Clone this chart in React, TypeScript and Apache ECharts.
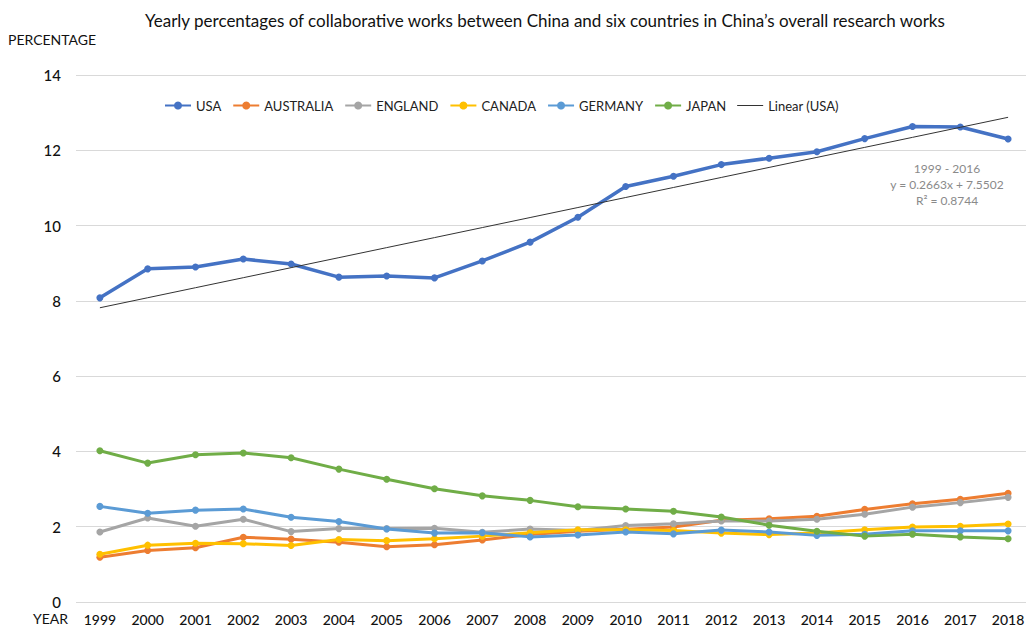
import React, { useEffect, useRef } from "react";
import * as echarts from "echarts";

const years = ["1999","2000","2001","2002","2003","2004","2005","2006","2007","2008","2009","2010","2011","2012","2013","2014","2015","2016","2017","2018"];
const usa = [8.08,8.85,8.90,9.11,8.98,8.63,8.66,8.61,9.06,9.56,10.22,11.04,11.31,11.62,11.79,11.96,12.31,12.63,12.62,12.30];
const australia = [1.19,1.37,1.44,1.72,1.67,1.59,1.47,1.52,1.65,1.79,1.88,1.93,1.99,2.17,2.21,2.28,2.46,2.61,2.73,2.89];
const england = [1.86,2.23,2.01,2.20,1.87,1.95,1.95,1.96,1.85,1.94,1.90,2.03,2.08,2.15,2.15,2.20,2.33,2.52,2.64,2.78];
const canada = [1.27,1.51,1.56,1.55,1.50,1.66,1.63,1.68,1.75,1.84,1.92,1.92,1.90,1.83,1.79,1.83,1.92,1.99,2.01,2.07];
const germany = [2.54,2.36,2.44,2.47,2.25,2.14,1.94,1.83,1.84,1.73,1.78,1.86,1.81,1.91,1.86,1.77,1.80,1.89,1.89,1.89];
const japan = [4.02,3.69,3.91,3.96,3.83,3.53,3.26,3.01,2.82,2.70,2.53,2.47,2.41,2.26,2.04,1.88,1.75,1.80,1.73,1.68];
const trendSlope = 0.2663;
const trendIntercept = 7.5502;
const trendLabel = ["1999 - 2016", "y = 0.2663x + 7.5502", "R² = 0.8744"];

const FONT = "Lato, 'Open Sans', sans-serif";

export default function App() {
  const ref = useRef<HTMLDivElement>(null);
  useEffect(() => {
    if (!ref.current) return;
    const chart = echarts.init(ref.current, null, { renderer: "svg" });
    const trend = years.map((_, i) => +(trendSlope * (i + 1) + trendIntercept).toFixed(4));
    const mk = (name: string, data: number[], color: string, width: number) => ({
      name,
      type: "line",
      data,
      symbol: "circle",
      symbolSize: 7,
      lineStyle: { color, width },
      itemStyle: { color },
      z: name === "USA" ? 3 : 2,
    });
    chart.setOption({
      animation: false,
      textStyle: { fontFamily: FONT },
      title: {
        text: "Yearly percentages of collaborative works between China and six countries in China\u2019s overall research works",
        left: 140,
        top: 7,
        textStyle: { fontFamily: FONT, fontSize: 17, fontWeight: "normal", color: "#111" },
      },
      legend: {
        top: 94,
        left: 159,
        itemWidth: 26,
        itemHeight: 10,
        itemGap: 11,
        textStyle: { fontFamily: FONT, fontSize: 13, color: "#222" },
        data: [
          "USA", "AUSTRALIA", "ENGLAND", "CANADA", "GERMANY", "JAPAN",
          { name: "Linear (USA)", icon: "path://M0 0 H26 V1 H0 Z" },
        ],
      },
      grid: { left: 76, right: 0, top: 75, bottom: 28 },
      xAxis: {
        type: "category",
        data: years,
        boundaryGap: true,
        axisLine: { show: false },
        axisTick: { show: false },
        axisLabel: { fontFamily: FONT, fontSize: 14, color: "#111", fontWeight: 500, margin: 10 },
      },
      yAxis: {
        type: "value",
        min: 0,
        max: 14,
        interval: 2,
        axisLine: { show: false },
        axisTick: { show: false },
        splitLine: { lineStyle: { color: "#d9d9d9", width: 1 } },
        axisLabel: { fontFamily: FONT, fontSize: 15, color: "#111", fontWeight: 500, margin: 15 },
      },
      graphic: [
        { type: "text", left: 8, top: 32, style: { text: "PERCENTAGE", font: `14px ${FONT}`, fill: "#111" } },
        { type: "text", left: 33, top: 611, style: { text: "YEAR", font: `14px ${FONT}`, fill: "#111" } },
        {
          type: "text",
          x: 947,
          y: 160,
          style: {
            text: trendLabel.join("\n"),
            font: `12px ${FONT}`,
            fill: "#8a8a8a",
            align: "center",
            lineHeight: 16,
          },
        },
      ],
      series: [
        mk("USA", usa, "#4472C4", 3.5),
        mk("AUSTRALIA", australia, "#ED7D31", 3),
        mk("ENGLAND", england, "#A5A5A5", 3),
        mk("CANADA", canada, "#FFC000", 3),
        mk("GERMANY", germany, "#5B9BD5", 3),
        mk("JAPAN", japan, "#70AD47", 3),
        {
          name: "Linear (USA)",
          type: "line",
          data: trend,
          symbol: "none",
          lineStyle: { color: "#333", width: 1 },
          itemStyle: { color: "#333" },
          z: 4,
        },
      ],
    });
    return () => chart.dispose();
  }, []);
  return (
    <div style={{ position: "absolute", left: 0, top: 0, width: 1026, height: 630, overflow: "hidden", background: "#fff" }}>
      <div ref={ref} style={{ width: 1032, height: 630 }} />
    </div>
  );
}
